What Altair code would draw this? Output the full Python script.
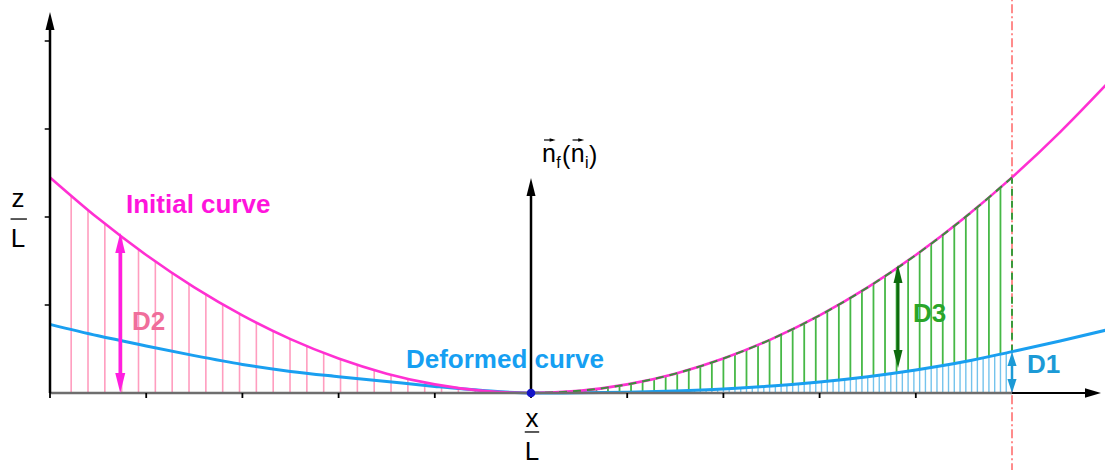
import altair as alt
import pandas as pd

# ---------------- data (units: x/L, z/L) ----------------
curve_x = [-5.0, -4.5, -4.0, -3.5, -3.0, -2.5, -2.0, -1.5, -1.0, -0.5, 0.0,
           0.5, 1.0, 1.5, 2.0, 2.5, 3.0, 3.5, 4.0, 4.5, 5.0, 5.5, 6.0]
initial_z = [2.45, 1.985, 1.568, 1.2, 0.882, 0.6125, 0.392, 0.22, 0.098, 0.0245, 0.0,
             0.0245, 0.098, 0.22, 0.392, 0.6125, 0.882, 1.2, 1.568, 1.985, 2.45, 2.965, 3.528]
deformed_z = [0.78, 0.65, 0.535, 0.425, 0.325, 0.245, 0.185, 0.13, 0.075, 0.028, 0.0,
              0.002, 0.009, 0.024, 0.046, 0.079, 0.125, 0.185, 0.261, 0.354, 0.47, 0.59, 0.72]

pink_hatch_x = [-5.0, -4.78, -4.605, -4.43, -4.255, -4.08, -3.905, -3.73, -3.555, -3.38,
                -3.205, -3.03, -2.855, -2.68, -2.505, -2.33, -2.155, -1.98, -1.805, -1.63,
                -1.455, -1.28, -1.105, -0.93, -0.755, -0.58, -0.405, -0.23]

blue_hatch_x = [0.02, 0.08, 0.14, 0.20, 0.26, 0.32, 0.38, 0.44, 0.50, 0.56, 0.62, 0.68,
                0.74, 0.80, 0.86, 0.92, 0.98, 1.04, 1.10, 1.16, 1.22, 1.28, 1.34, 1.40,
                1.46, 1.52, 1.58, 1.64, 1.70, 1.76, 1.82, 1.88, 1.94, 2.00, 2.06, 2.12,
                2.18, 2.24, 2.30, 2.36, 2.42, 2.48, 2.54, 2.60, 2.66, 2.72, 2.78, 2.84,
                2.90, 2.96, 3.02, 3.08, 3.14, 3.20, 3.26, 3.32, 3.38, 3.44, 3.50, 3.56,
                3.62, 3.68, 3.74, 3.80, 3.86, 3.92, 3.98, 4.04, 4.10, 4.16, 4.22, 4.28,
                4.34, 4.40, 4.46, 4.52, 4.58, 4.64, 4.70, 4.76, 4.82, 4.88, 4.94, 5.00]
blue_hatch_z = [0.000, 0.000, 0.000, 0.000, 0.000, 0.001, 0.001, 0.001, 0.002, 0.002, 0.003, 0.004,
                0.005, 0.005, 0.006, 0.007, 0.009, 0.010, 0.011, 0.013, 0.014, 0.016, 0.018, 0.020,
                0.022, 0.024, 0.026, 0.028, 0.031, 0.034, 0.036, 0.039, 0.042, 0.046, 0.049, 0.053,
                0.056, 0.060, 0.064, 0.069, 0.073, 0.078, 0.082, 0.087, 0.092, 0.098, 0.103, 0.109,
                0.115, 0.121, 0.127, 0.134, 0.140, 0.147, 0.154, 0.162, 0.169, 0.177, 0.185, 0.193,
                0.202, 0.211, 0.220, 0.229, 0.238, 0.248, 0.258, 0.268, 0.279, 0.290, 0.301, 0.312,
                0.324, 0.335, 0.348, 0.360, 0.373, 0.386, 0.399, 0.413, 0.427, 0.441, 0.455, 0.470]
green_hatch_x = blue_hatch_x[1:82:2]
green_hatch_base = blue_hatch_z[1:82:2]

tick_x = [-5, -4, -3, -2, -1, 0, 1, 2, 3, 4]
tick_y = [1, 2, 3, 4]

# ---------------- scales ----------------
XS = alt.Scale(domain=[-5.5198, 5.9667], nice=False, zero=False)
YS = alt.Scale(domain=[-0.875, 4.4659], nice=False, zero=False)


def X(f):
    return alt.X(f, type="quantitative", scale=XS, axis=None)


def Y(f):
    return alt.Y(f, type="quantitative", scale=YS, axis=None)


MAGENTA = "#ff30d2"
BLUE = "#1a9ff0"
GREEN = "#46b846"

curves = pd.DataFrame({"x": curve_x, "zi": initial_z, "zd": deformed_z})
curves["top"] = 4.5
right = curves[(curves.x >= 0) & (curves.x <= 5)]

pink = pd.DataFrame({"x": pink_hatch_x, "y0": 0.0, "y1": 2.6})
green = pd.DataFrame({"x": green_hatch_x, "y0": green_hatch_base, "y1": 3.0})
blueh = pd.DataFrame({"x": blue_hatch_x, "y0": 0.0, "y1": blue_hatch_z})

pink_layer = alt.Chart(pink).mark_rule(color="#ff9dbf", strokeWidth=1.6).encode(
    x=X("x"), y=Y("y0"), y2="y1")
green_layer = alt.Chart(green).mark_rule(color=GREEN, strokeWidth=1.8).encode(
    x=X("x"), y=Y("y0"), y2="y1")
mask = alt.Chart(curves).mark_area(color="white", opacity=1, interpolate="monotone").encode(
    x=X("x"), y=Y("zi"), y2="top")
blue_layer = alt.Chart(blueh).mark_rule(color="#74c3ec", strokeWidth=1.4).encode(
    x=X("x"), y=Y("y0"), y2="y1")

# vertical dashed guides at x/L = 5
guide = pd.DataFrame({"x": [5.0], "y0": [-0.9], "y1": [4.5]})
red_line = alt.Chart(guide).mark_rule(color="#ff4f4f", strokeWidth=1.3,
                                      strokeDash=[9, 3, 2, 3]).encode(
    x=X("x"), y=Y("y0"), y2="y1")
gv = pd.DataFrame({"x": [5.0], "y0": [0.47], "y1": [2.45]})
green_vert = alt.Chart(gv).mark_rule(color="#3a9a3a", strokeWidth=2,
                                     strokeDash=[7, 5]).encode(
    x=X("x"), y=Y("y0"), y2="y1")

blue_curve = alt.Chart(curves).mark_line(color=BLUE, strokeWidth=3,
                                         interpolate="monotone").encode(
    x=X("x"), y=Y("zd"))
mag_curve = alt.Chart(curves).mark_line(color=MAGENTA, strokeWidth=2.6,
                                        interpolate="monotone").encode(
    x=X("x"), y=Y("zi"))
green_dash = alt.Chart(right).mark_line(color="#3a8f3a", strokeWidth=2,
                                        strokeDash=[8, 6],
                                        interpolate="monotone").encode(
    x=X("x"), y=Y("zi"))

# ---------------- labels ----------------
bold = pd.DataFrame({
    "t": ["Initial curve", "Deformed curve", "D2", "D3", "D1"],
    "x": [-4.21, -1.30, -4.148, 3.971, 5.156],
    "y": [2.042, 0.281, 0.716, 0.81, 0.231],
    "c": ["#ff14dc", "#169ff2", "#f06e9b", "#2aa52a", "#1c9ad6"],
})
bold_layer = alt.Chart(bold).mark_text(font="Liberation Sans", fontWeight="bold",
                                       fontSize=26, align="left",
                                       baseline="alphabetic").encode(
    x=X("x"), y=Y("y"), text="t:N", color=alt.Color("c:N", scale=None))

frac = pd.DataFrame({
    "t": ["z", "L", "x", "L"],
    "x": [-5.333, -5.333, 0.01, 0.01],
    "y": [2.114, 1.659, -0.39, -0.761],
})
frac_layer = alt.Chart(frac).mark_text(font="Liberation Sans", fontSize=26,
                                       align="center", baseline="alphabetic",
                                       color="black").encode(
    x=X("x"), y=Y("y"), text="t:N")

# normal-vector label n_f(n_i): pieces placed side by side
nvec = pd.DataFrame({
    "t": ["n", "f", "(", "n", "i", ")"],
    "x": [0.115, 0.262, 0.323, 0.412, 0.560, 0.604],
    "y": [2.625, 2.56, 2.60, 2.625, 2.56, 2.60],
    "s": [25, 16, 25, 25, 16, 25],
})
nvec_layer = alt.Chart(nvec).mark_text(font="Liberation Sans", align="left",
                                       baseline="alphabetic", color="black").encode(
    x=X("x"), y=Y("y"), text="t:N", size=alt.Size("s:Q", scale=None))

# ---------------- axes, arrow shafts, ticks ----------------
seg_rows = [
    (-5.0, 5.0, 0.0, 0.0, "#6e6e6e", 2.5),
    (5.0, 5.842, 0.0, 0.0, "black", 2.2),
    (-5.0, -5.0, 0.0, 4.227, "black", 2.5),
    (0.0, 0.0, 0.0, 2.341, "black", 2.5),
    (-4.27, -4.27, 0.114, 1.705, "#ff1fe0", 3.5),
    (3.815, 3.815, 0.386, 1.352, "#0e6b0e", 3.0),
    (5.0, 5.0, 0.08, 0.386, "#1c9ad6", 2.5),
    (-5.41, -5.24, 1.977, 1.977, "black", 1.3),
    (-0.065, 0.085, -0.443, -0.443, "black", 1.3),
    # small vector arrows above the two n's
    (0.135, 0.225, 2.875, 2.875, "black", 1.2),
    (0.432, 0.522, 2.875, 2.875, "black", 1.2),
]
for t in tick_y:
    seg_rows.append((-5.055, -5.0, t, t, "black", 1.5))
for t in tick_x:
    seg_rows.append((t, t, 0.0, -0.057, "black", 1.8))
segs = pd.DataFrame(seg_rows, columns=["x", "x2", "y", "y2", "c", "w"])
seg_layer = alt.Chart(segs).mark_rule().encode(
    x=X("x"), x2="x2", y=Y("y"), y2="y2",
    color=alt.Color("c:N", scale=None),
    strokeWidth=alt.StrokeWidth("w:Q", scale=None))

UP = "M0,-1L0.5,1L-0.5,1Z"
DOWN = "M0,1L0.5,-1L-0.5,-1Z"
UPW = "M0,-1L0.65,1L-0.65,1Z"
DOWNW = "M0,1L0.65,-1L-0.65,-1Z"
RIGHT = "M1,0L-1,-0.6L-1,0.6Z"
heads = pd.DataFrame([
    (-5.0, 4.227, UP, "black", 324),
    (5.842, 0.0, RIGHT, "black", 256),
    (0.0, 2.341, UP, "black", 324),
    (-4.27, 1.705, UP, "#ff1fe0", 400),
    (-4.27, 0.114, DOWN, "#ff1fe0", 400),
    (3.815, 1.352, UP, "#0e6b0e", 324),
    (3.815, 0.386, DOWN, "#0e6b0e", 324),
    (5.0, 0.386, UPW, "#1c9ad6", 196),
    (5.0, 0.08, DOWNW, "#1c9ad6", 196),
    (0.0, 0.0, "circle", "#1414c8", 75),
    (0.225, 2.875, RIGHT, "black", 36),
    (0.522, 2.875, RIGHT, "black", 36),
], columns=["x", "y", "s", "c", "sz"])
head_layer = alt.Chart(heads).mark_point(filled=True, opacity=1, strokeWidth=0).encode(
    x=X("x"), y=Y("y"),
    shape=alt.Shape("s:N", scale=None),
    color=alt.Color("c:N", scale=None),
    size=alt.Size("sz:Q", scale=None))

chart = alt.layer(
    pink_layer, green_layer, mask, blue_layer, red_line, green_vert,
    blue_curve, mag_curve, green_dash, bold_layer, frac_layer, nvec_layer,
    seg_layer, head_layer,
).properties(
    width=1105, height=470, padding=0, autosize="none", background="white"
).configure_view(stroke=None)

chart.save("out.html", embed_options={"renderer": "svg", "actions": False})
